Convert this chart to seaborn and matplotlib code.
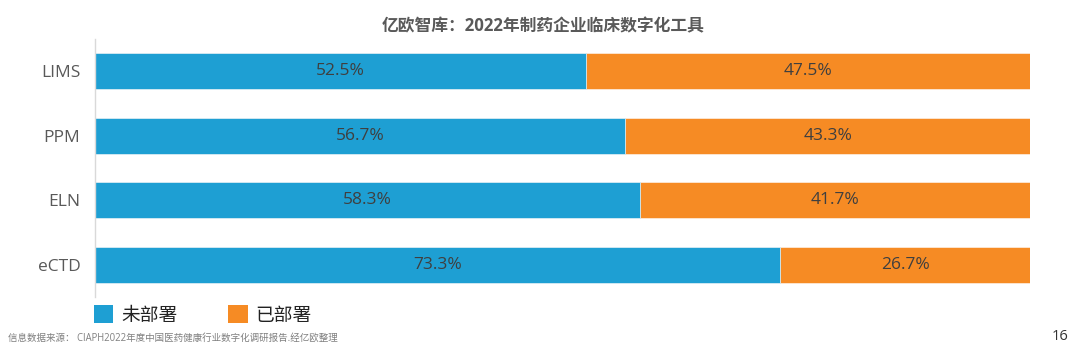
import matplotlib
matplotlib.use("Agg")
import matplotlib.pyplot as plt
from matplotlib.patches import Patch
import seaborn as sns
import pandas as pd

tools = ["LIMS", "PPM", "ELN", "eCTD"]
not_deployed = [52.5, 56.7, 58.3, 73.3]
deployed = [47.5, 43.3, 41.7, 26.7]
series_names = ["未部署", "已部署"]
title = "亿欧智库：2022年制药企业临床数字化工具"
source = "信息数据来源： CIAPH2022年度中国医药健康行业数字化调研报告.经亿欧整理"
page_no = "16"

BLUE = "#1e9fd3"
ORANGE = "#f68b24"

sns.set_theme(style="white")
plt.rcParams["font.family"] = ["Open Sans", "Noto Sans CJK SC", "DejaVu Sans"]

df = pd.DataFrame({"tool": tools, "nd": not_deployed, "d": deployed})
df["total"] = df["nd"] + df["d"]

fig = plt.figure(figsize=(10.8, 3.5), dpi=100)
ax = fig.add_axes([95 / 1080, 1 - 297 / 350, 935 / 1080, 258 / 350])

sns.barplot(data=df, y="tool", x="total", orient="h", color=ORANGE, saturation=1,
            width=0.56, edgecolor="#fde9d6", linewidth=0.6, ax=ax)
sns.barplot(data=df, y="tool", x="nd", orient="h", color=BLUE, saturation=1,
            width=0.56, edgecolor="#d9eef8", linewidth=0.6, ax=ax)

for i, (a, b) in enumerate(zip(not_deployed, deployed)):
    ax.text(a / 2, i, f"{a}%", ha="center", va="center", fontsize=12.5, color="#3f3f3f")
    ax.text(a + b / 2, i, f"{b}%", ha="center", va="center", fontsize=12.5, color="#3f3f3f")

ax.set_xlim(0, 100)
ax.set_ylim(3.5, -0.5)
ax.set_xlabel("")
ax.set_ylabel("")
ax.set_xticks([])
ax.tick_params(axis="y", length=0, labelsize=12.5, labelcolor="#595959", pad=10.5)
for s in ["top", "right", "bottom"]:
    ax.spines[s].set_visible(False)
ax.spines["left"].set_color("#d9d9d9")
ax.spines["left"].set_linewidth(1.0)

fig.text(543 / 1080, 1 - 26 / 350, title, ha="center", va="center", fontsize=12.1,
         fontweight="bold", color="#595959")

handles = [Patch(facecolor=BLUE, edgecolor="none"), Patch(facecolor=ORANGE, edgecolor="none")]
fig.legend(handles, series_names, loc="center left", bbox_to_anchor=(90 / 1080, 1 - 315 / 350),
           ncol=2, frameon=False, fontsize=13.5, handlelength=1.05, handleheight=1.05,
           handletextpad=0.4, columnspacing=2.7, borderaxespad=0, borderpad=0.2,
           labelcolor="#222222")

fig.text(8 / 1080, 1 - 338 / 350, source, ha="left", va="center", fontsize=6.85, color="#7f7f7f")
fig.text(1060 / 1080, 1 - 337 / 350, page_no, ha="center", va="center", fontsize=10.5, color="#333333")

fig.savefig("out.png", dpi=100)
